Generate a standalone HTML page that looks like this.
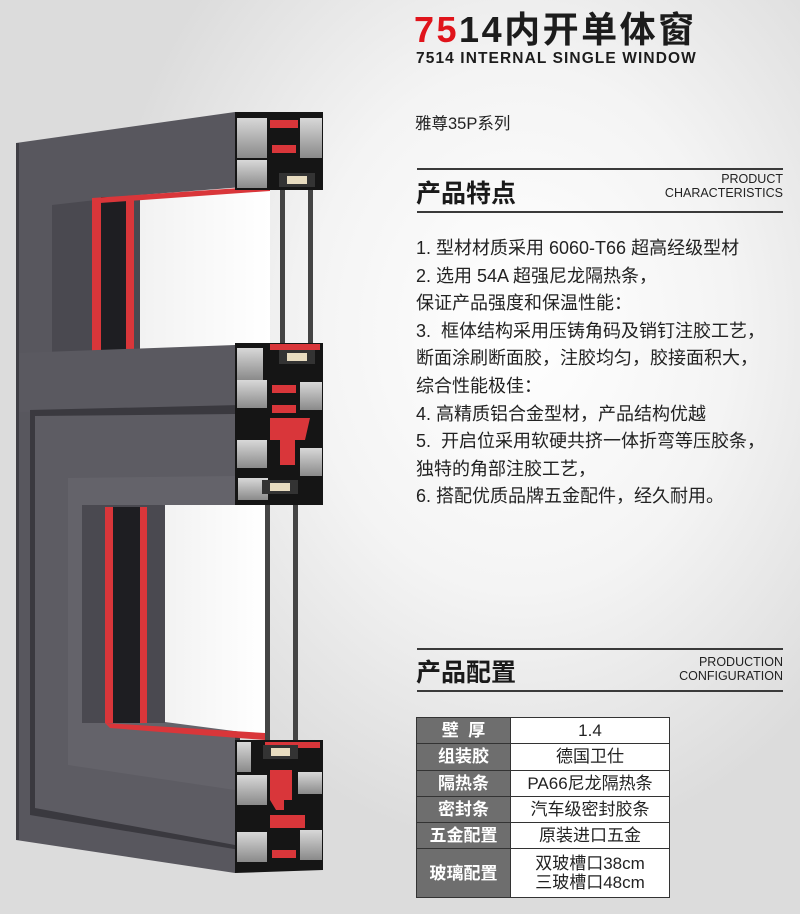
<!DOCTYPE html>
<html><head><meta charset="utf-8"><style>
*{margin:0;padding:0;box-sizing:border-box}
body{width:800px;height:914px;overflow:hidden;position:relative;font-family:"Liberation Sans","Noto Sans CJK SC",sans-serif;color:#222;
background:radial-gradient(ellipse 420px 520px at 520px 330px,#ffffff 0%,#f4f4f4 50%,#dcdcdc 100%);}
.a{position:absolute;white-space:nowrap}
.hl{position:absolute;left:417px;width:366px;height:2px;background:#3a3a3a}
table{position:absolute;left:416px;top:717px;width:254px;border-collapse:collapse;font-size:17px}
td{border:1.5px solid #333;text-align:center;height:26.3px;line-height:19px}
td.k{background:#6e6e6e;color:#fff;width:94px;font-weight:bold}
td.v{background:#fff;color:#222}
</style></head><body>
<svg class="a" style="left:0;top:0" width="340" height="914" viewBox="0 0 340 914">
<defs>
<linearGradient id="gl" x1="0" x2="1"><stop offset="0" stop-color="#f2f2f2"/><stop offset="1" stop-color="#ffffff"/></linearGradient>
<linearGradient id="pr" x1="0" y1="0" x2="0" y2="1"><stop offset="0" stop-color="#d8d8d8"/><stop offset="1" stop-color="#8a8a8a"/></linearGradient>
</defs>
<polygon points="16,143 235,112 235,873 16,840" fill="#58575e"/>
<polygon points="52,205 140,195 140,353 52,353" fill="#4a4950"/>
<polygon points="140,195 270,185 270,350 140,350" fill="url(#gl)"/>
<rect x="92" y="198" width="9" height="155" fill="#d9363a"/>
<rect x="101" y="197" width="25" height="156" fill="#1e1e22"/>
<rect x="126" y="196" width="8" height="157" fill="#d9363a"/>
<polygon points="92,198 270,186 270,191 100,203" fill="#d9363a"/>
<polygon points="16,353 235,345 235,410 16,412" fill="#5a5960"/>
<polygon points="30,410 240,405 240,850 30,815" fill="#3a393f"/>
<polygon points="35,416 235,414 235,845 35,808" fill="#5d5c63"/>
<polygon points="68,478 235,476 235,790 68,765" fill="#64636a"/>
<polygon points="82,505 165,505 165,723 82,723" fill="#4a4950"/>
<polygon points="165,505 265,505 265,735 165,722" fill="url(#gl)"/>
<rect x="105" y="507" width="8" height="216" fill="#d9363a"/>
<rect x="113" y="507" width="27" height="216" fill="#1e1e22"/>
<rect x="140" y="507" width="7" height="216" fill="#d9363a"/>
<polygon points="105,723 265,733 265,740 110,728" fill="#d9363a"/>
<rect x="16" y="143" width="3" height="697" fill="#3f3e44"/>
<rect x="280" y="185" width="5" height="165" fill="#444"/>
<rect x="308" y="185" width="5" height="165" fill="#444"/>
<rect x="265" y="505" width="5" height="235" fill="#444"/>
<rect x="293" y="505" width="5" height="235" fill="#444"/>
<g>
<polygon points="235,112 323,112 323,190 235,190" fill="#151515"/>
<rect x="237" y="118" width="30" height="40" fill="url(#pr)"/>
<rect x="237" y="160" width="30" height="28" fill="url(#pr)"/>
<rect x="300" y="118" width="22" height="40" fill="url(#pr)"/>
<rect x="270" y="120" width="28" height="8" fill="#d9363a"/>
<rect x="272" y="145" width="24" height="8" fill="#d9363a"/>
<rect x="279" y="173" width="36" height="14" fill="#333"/>
<rect x="287" y="176" width="20" height="8" fill="#e8dcc0"/>
</g>
<g>
<polygon points="235,343 323,343 323,505 235,505" fill="#151515"/>
<rect x="237" y="348" width="26" height="32" fill="url(#pr)"/>
<rect x="237" y="380" width="30" height="28" fill="url(#pr)"/>
<rect x="300" y="382" width="22" height="28" fill="url(#pr)"/>
<rect x="237" y="440" width="30" height="28" fill="url(#pr)"/>
<rect x="300" y="448" width="22" height="28" fill="url(#pr)"/>
<rect x="238" y="478" width="30" height="22" fill="url(#pr)"/>
<rect x="270" y="344" width="50" height="6" fill="#d9363a"/>
<rect x="272" y="385" width="24" height="8" fill="#d9363a"/>
<rect x="272" y="405" width="24" height="8" fill="#d9363a"/>
<polygon points="270,418 310,418 305,440 295,440 295,465 280,465 280,440 270,440" fill="#d9363a"/>
<rect x="279" y="350" width="36" height="14" fill="#333"/>
<rect x="287" y="353" width="20" height="8" fill="#e8dcc0"/>
<rect x="262" y="480" width="36" height="14" fill="#333"/>
<rect x="270" y="483" width="20" height="8" fill="#e8dcc0"/>
</g>
<g>
<polygon points="235,740 323,740 323,870 235,873" fill="#151515"/>
<rect x="237" y="742" width="14" height="30" fill="url(#pr)"/>
<rect x="237" y="775" width="30" height="30" fill="url(#pr)"/>
<rect x="298" y="772" width="24" height="22" fill="url(#pr)"/>
<rect x="237" y="832" width="30" height="30" fill="url(#pr)"/>
<rect x="300" y="830" width="22" height="30" fill="url(#pr)"/>
<rect x="265" y="742" width="55" height="6" fill="#d9363a"/>
<polygon points="270,770 292,770 292,800 284,800 284,810 276,810 270,800" fill="#d9363a"/>
<polygon points="270,815 305,815 305,828 270,828" fill="#d9363a"/>
<rect x="272" y="850" width="24" height="8" fill="#d9363a"/>
<rect x="263" y="745" width="35" height="14" fill="#333"/>
<rect x="271" y="748" width="19" height="8" fill="#e8dcc0"/>
</g>
</svg>

<div class="a" style="left:414px;top:9px;font-size:36px;font-weight:bold;letter-spacing:2.5px;line-height:42px"><span style="color:#e0141b">75</span><span style="color:#1c1c1c">14内开单体窗</span></div>
<div class="a" style="left:416px;top:50px;font-size:15.5px;font-weight:bold;color:#1c1c1c;letter-spacing:1.1px">7514 INTERNAL SINGLE WINDOW</div>
<div class="a" style="left:415px;top:110px;font-size:16.5px;color:#222">雅尊35P系列</div>

<div class="hl" style="top:168px"></div>
<div class="a" style="left:416px;top:174px;font-size:25px;font-weight:bold;color:#1a1a1a">产品特点</div>
<div class="a" style="right:17px;top:172px;font-size:12.5px;line-height:14px;text-align:right;color:#222">PRODUCT<br>CHARACTERISTICS</div>
<div class="hl" style="top:211px"></div>

<div class="a" style="left:416px;top:235px;font-size:18px;line-height:27.6px;color:#222">1. 型材材质采用 6060-T66 超高经级型材<br>2. 选用 54A 超强尼龙隔热条，<br>保证产品强度和保温性能：<br>3.&nbsp; 框体结构采用压铸角码及销钉注胶工艺，<br>断面涂刷断面胶，注胶均匀，胶接面积大，<br>综合性能极佳：<br>4. 高精质铝合金型材，产品结构优越<br>5.&nbsp; 开启位采用软硬共挤一体折弯等压胶条，<br>独特的角部注胶工艺，<br>6. 搭配优质品牌五金配件，经久耐用。</div>

<div class="hl" style="top:648px"></div>
<div class="a" style="left:416px;top:653px;font-size:25px;font-weight:bold;color:#1a1a1a">产品配置</div>
<div class="a" style="right:17px;top:656px;font-size:12.5px;line-height:13.5px;text-align:right;color:#222">PRODUCTION<br>CONFIGURATION</div>
<div class="hl" style="top:690px"></div>

<table>
<tr><td class="k">壁&nbsp;&nbsp;厚</td><td class="v">1.4</td></tr>
<tr><td class="k">组装胶</td><td class="v">德国卫仕</td></tr>
<tr><td class="k">隔热条</td><td class="v">PA66尼龙隔热条</td></tr>
<tr><td class="k">密封条</td><td class="v">汽车级密封胶条</td></tr>
<tr><td class="k">五金配置</td><td class="v">原装进口五金</td></tr>
<tr><td class="k" style="height:49px">玻璃配置</td><td class="v" style="height:49px">双玻槽口38cm<br>三玻槽口48cm</td></tr>
</table>
</body></html>
